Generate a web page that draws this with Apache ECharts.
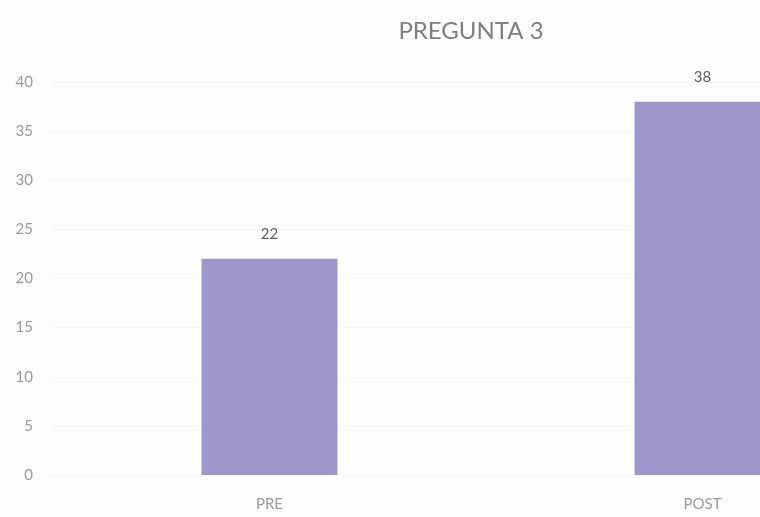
<!DOCTYPE html>
<html>
<head>
<meta charset="utf-8">
<script src="https://cdn.jsdelivr.net/npm/echarts@6/dist/echarts.min.js"></script>
<style>html,body{margin:0;padding:0;background:#fdfdfd;}#c{width:760px;height:517px;}</style>
</head>
<body>
<div id="c"></div>
<script>
const titleText = 'PREGUNTA 3';
const categories = ['PRE', 'POST'];
const values = [22, 38];
const yTicks = { min: 0, max: 40, interval: 5 };

const chart = echarts.init(document.getElementById('c'));
chart.setOption({
  backgroundColor: '#fdfdfd',
  animation: false,
  title: {
    text: titleText,
    left: 466,
    top: 14,
    textAlign: 'center',
    textStyle: { fontFamily: 'Lato', fontSize: 24, fontWeight: 'normal', color: '#7f7f7f' }
  },
  grid: { left: 53, top: 82, width: 866, height: 393, containLabel: false, outerBoundsMode: 'none' },
  xAxis: {
    type: 'category',
    data: categories,
    axisLine: { show: false },
    axisTick: { show: false },
    axisLabel: { margin: 22, fontFamily: 'Lato', fontSize: 15, color: '#9a9a9a' }
  },
  yAxis: {
    type: 'value',
    min: yTicks.min, max: yTicks.max, interval: yTicks.interval,
    axisLine: { show: false },
    axisTick: { show: false },
    splitLine: { show: true, lineStyle: { color: '#f6f6f6', width: 1 } },
    axisLabel: { margin: 20, fontFamily: 'Lato', fontSize: 15, color: '#9a9a9a' }
  },
  series: [{
    type: 'bar',
    data: values,
    barWidth: 136,
    itemStyle: { color: '#9d97cb' },
    label: {
      show: true, position: 'top', distance: 17,
      fontFamily: 'Lato', fontSize: 15, color: '#5f5f5f'
    }
  }]
});
</script>
</body>
</html>
